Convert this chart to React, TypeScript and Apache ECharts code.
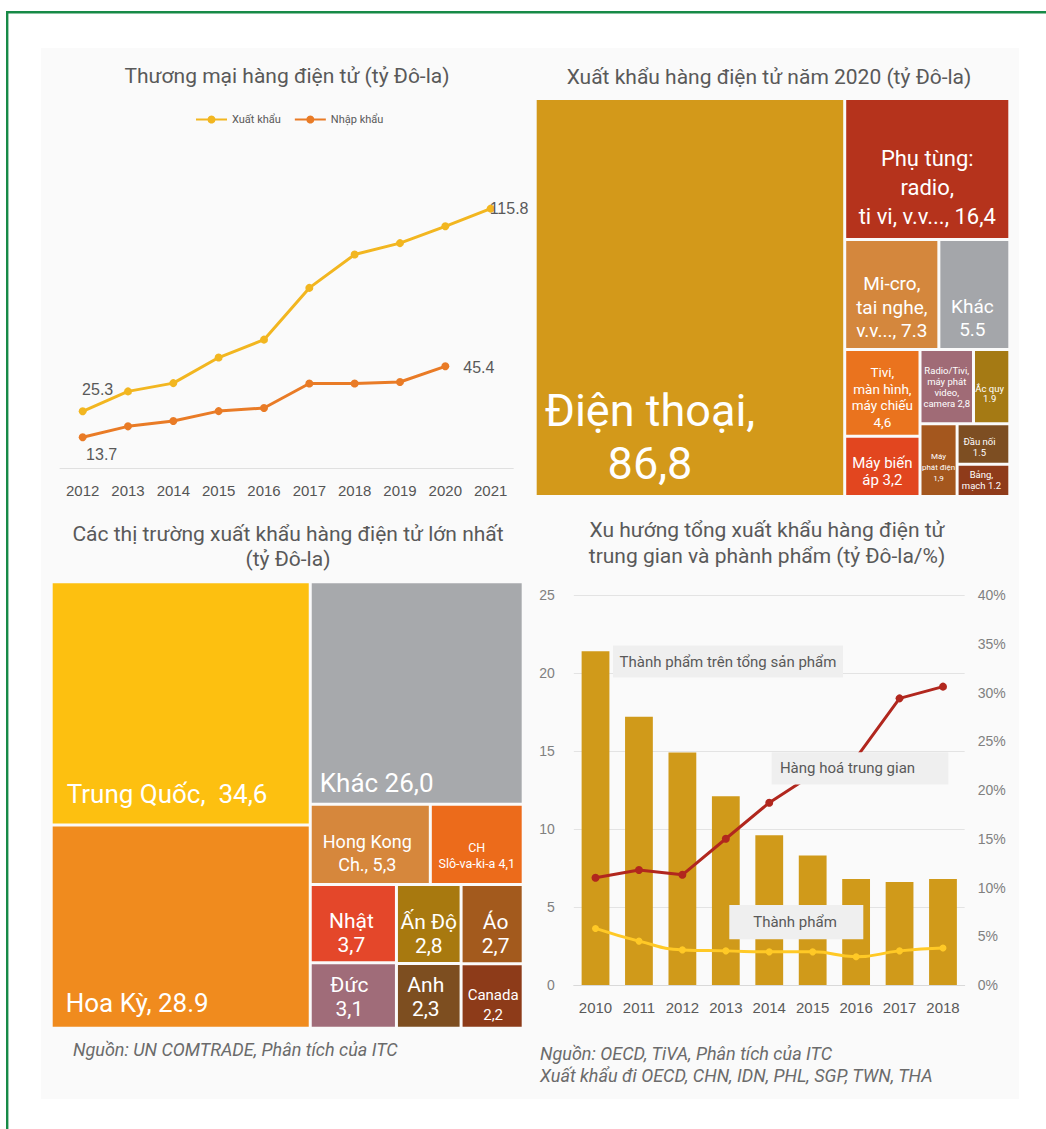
import React, { useEffect, useRef } from 'react';
import * as echarts from 'echarts';

// ---------- Chart 1: Thương mại hàng điện tử ----------
const tradeYears = ['2012', '2013', '2014', '2015', '2016', '2017', '2018', '2019', '2020', '2021'];
const exportValues = [25.3, 34.2, 37.9, 49.3, 57.3, 80.4, 95.3, 100.4, 107.9, 115.8];
const importValues = [13.7, 18.6, 21.0, 25.4, 26.8, 37.7, 37.7, 38.4, 45.4];

// ---------- Chart 2: Xuất khẩu hàng điện tử năm 2020 ----------
const productNames = [
  'Điện thoại', 'Phụ tùng: radio, ti vi, v.v...', 'Mi-cro, tai nghe, v.v...', 'Khác',
  'Tivi, màn hình, máy chiếu', 'Máy biến áp', 'Radio/Tivi, máy phát video, camera', 'Ắc quy',
  'Máy phát điện', 'Đầu nối', 'Bảng, mạch',
];
const productValues = [86.8, 16.4, 7.3, 5.5, 4.6, 3.2, 2.8, 1.9, 1.9, 1.5, 1.2];
const productLabels = [
  'Điện thoại,\n86,8', 'Phụ tùng:\nradio,\nti vi, v.v..., 16,4', 'Mi-cro,\ntai nghe,\nv.v..., 7.3', 'Khác\n5.5',
  'Tivi,\nmàn hình,\nmáy chiếu\n4,6', 'Máy biến\náp 3,2', 'Radio/Tivi,\nmáy phát\nvideo,\ncamera 2,8', 'Ắc quy\n1.9',
  'Máy\nphát điện\n1,9', 'Đầu nối\n1.5', 'Bảng,\nmạch 1.2',
];
const productColors = [
  '#D3991A', '#B5331C', '#D4873D', '#A4A6AA', '#EA731E', '#E2461F', '#A06B76', '#A57A14',
  '#A4571E', '#7D4E22', '#8F3B1A',
];
const productLabelStyles = [
  { fontSize: 45, lineHeight: 53, offset: [-40, 139] },
  { fontSize: 22, lineHeight: 29, offset: [0, 19] },
  { fontSize: 19, lineHeight: 23.5, offset: [0, 13] },
  { fontSize: 19, lineHeight: 23, offset: [-2, 24] },
  { fontSize: 13.5, lineHeight: 16.5, offset: [0, 4] },
  { fontSize: 15, lineHeight: 17, offset: [0, 5] },
  { fontSize: 9.5, lineHeight: 11, offset: [0, 0] },
  { fontSize: 9.5, lineHeight: 10.5, offset: [-2, 7] },
  { fontSize: 8, lineHeight: 11, offset: [0, 7] },
  { fontSize: 9.5, lineHeight: 11, offset: [-4, 3] },
  { fontSize: 9.5, lineHeight: 10.7, offset: [-2, 0] },
];

// ---------- Chart 3: Các thị trường xuất khẩu ----------
const marketNames = [
  'Trung Quốc', 'Hoa Kỳ', 'Khác', 'Hong Kong Ch.', 'CH Slô-va-ki-a', 'Nhật', 'Đức', 'Ấn Độ', 'Anh', 'Áo', 'Canada',
];
const marketValues = [34.6, 28.9, 26.0, 5.3, 4.1, 3.7, 3.1, 2.8, 2.3, 2.7, 2.2];
const marketLabels = [
  'Trung Quốc,  34,6', 'Hoa Kỳ, 28.9', 'Khác 26,0', 'Hong Kong\nCh., 5,3', 'CH\nSlô-va-ki-a 4,1',
  'Nhật\n3,7', 'Đức\n3,1', 'Ấn Độ\n2,8', 'Anh\n2,3', 'Áo\n2,7', 'Canada\n2,2',
];
const marketColors = [
  '#FDC010', '#F08B1E', '#A7A9AC', '#D6873C', '#EC6B1B', '#E4472A', '#A06C79', '#A8790F', '#7D4E20', '#A35A1D', '#8D3B19',
];
const marketLabelStyles = [
  { fontSize: 26, lineHeight: 30, position: 'insideBottomLeft', offset: [14, -15] },
  { fontSize: 26, lineHeight: 30, position: 'insideBottomLeft', offset: [13, -9] },
  { fontSize: 26, lineHeight: 30, position: 'insideBottomLeft', offset: [8, -5] },
  { fontSize: 18, lineHeight: 23, offset: [-3, 9] },
  { fontSize: 12.5, lineHeight: 16, offset: [0, 11] },
  { fontSize: 21, lineHeight: 24, offset: [-2, 9.5] },
  { fontSize: 21, lineHeight: 24, offset: [-4, 1] },
  { fontSize: 21, lineHeight: 24, offset: [0, 9.5] },
  { fontSize: 21, lineHeight: 24, offset: [-3, 1] },
  { fontSize: 21, lineHeight: 24, offset: [3.5, 9.5] },
  { fontSize: 15, lineHeight: 20, offset: [1, 8.5] },
];

// ---------- Chart 4: Xu hướng ----------
const trendYears = ['2010', '2011', '2012', '2013', '2014', '2015', '2016', '2017', '2018'];
const finalGoodsValues = [21.4, 17.2, 14.9, 12.1, 9.6, 8.3, 6.8, 6.6, 6.8];
const intermediateShare = [11.0, 11.8, 11.3, 15.0, 18.7, 21.6, 23.3, 29.4, 30.6];
const finalShare = [5.8, 4.5, 3.6, 3.5, 3.4, 3.4, 2.9, 3.5, 3.8];

const GRAY = '#595959';

function leaf(names: string[], values: number[], labels: string[], colors: string[], styles: any[], i: number) {
  const st = styles[i];
  return {
    name: names[i],
    value: values[i],
    itemStyle: { color: colors[i] },
    label: {
      formatter: labels[i],
      fontSize: st.fontSize,
      lineHeight: st.lineHeight,
      offset: st.offset,
      position: st.position || 'inside',
      align: st.position ? 'left' : 'center',
    },
  };
}

function buildProductTree() {
  const p = (i: number) => leaf(productNames, productValues, productLabels, productColors, productLabelStyles, i);
  return [
    p(0),
    {
      name: 'g1',
      children: [
        p(1),
        {
          name: 'g2',
          children: [
            { name: 'g4', children: [p(2), p(3)] },
            {
              name: 'g3',
              children: [
                p(4),
                p(5),
                {
                  name: 'g5',
                  children: [
                    { name: 'g7', children: [p(6), p(7)] },
                    { name: 'g8', children: [p(8), { name: 'g6', children: [p(9), p(10)] }] },
                  ],
                },
              ],
            },
          ],
        },
      ],
    },
  ];
}

function buildMarketTree() {
  const m = (i: number) => leaf(marketNames, marketValues, marketLabels, marketColors, marketLabelStyles, i);
  return [
    m(0),
    m(1),
    {
      name: 'gr',
      children: [
        m(2),
        m(3),
        m(4),
        {
          name: 'g4',
          children: [
            { name: 'c1', children: [m(5), m(6)] },
            {
              name: 'c23',
              children: [
                { name: 'c2', children: [m(7), m(8)] },
                { name: 'c3', children: [m(9), m(10)] },
              ],
            },
          ],
        },
      ],
    },
  ];
}

const treemapBase: any = {
  type: 'treemap',
  roam: false,
  nodeClick: false,
  sort: false,
  silent: true,
  breadcrumb: { show: false },
  drillDownIcon: '',
  visibleMin: 0,
  itemStyle: { borderWidth: 0, gapWidth: 3, borderColor: '#fafafa' },
  upperLabel: { show: false },
  label: {
    show: true,
    position: 'inside',
    padding: 0,
    distance: 0,
    color: '#ffffff',
    fontFamily: 'Roboto',
    overflow: 'none',
  },
};

function titleText(text: string, x: number, y: number, lineHeight = 25) {
  return {
    type: 'text',
    x,
    y,
    z: 50,
    style: {
      text,
      fill: GRAY,
      fontSize: 21,
      fontFamily: 'Roboto',
      lineHeight,
      align: 'center',
      verticalAlign: 'middle',
    },
  };
}

function sourceText(text: string, x: number, y: number) {
  return {
    type: 'text',
    x,
    y,
    z: 50,
    style: {
      text,
      fill: '#6b6b6b',
      fontSize: 18,
      fontStyle: 'italic',
      fontFamily: 'Roboto',
      align: 'left',
      verticalAlign: 'middle',
    },
  };
}

function noteBox(text: string, x: number, y: number, w: number, h: number, tx: number) {
  return [
    { type: 'rect', x, y, z: 100, shape: { width: w, height: h }, style: { fill: '#efefef' } },
    {
      type: 'text',
      x: tx,
      y: y + h / 2,
      z: 101,
      style: {
        text,
        fill: GRAY,
        fontSize: 15,
        fontFamily: 'Roboto',
        align: 'center',
        verticalAlign: 'middle',
      },
    },
  ];
}

function buildOption(): any {
  const exportData = exportValues.map((v, i) => {
    if (i === 0) return { value: v, label: { show: true, position: 'top', offset: [15, -5] } };
    if (i === exportValues.length - 1) return { value: v, label: { show: true, position: 'right', offset: [-10, 0] } };
    return v;
  });
  const importData = importValues.map((v, i) => {
    if (i === 0) return { value: v, label: { show: true, position: 'bottom', offset: [19, 0] } };
    if (i === importValues.length - 1) return { value: v, label: { show: true, position: 'right', offset: [9, 1] } };
    return v;
  });
  const dataLabel = { fontFamily: 'Liberation Sans', fontSize: 16, color: GRAY };

  return {
    animation: false,
    backgroundColor: '#ffffff',
    textStyle: { fontFamily: 'Roboto' },
    graphic: [
      { type: 'rect', x: 41, y: 48, z: -10, shape: { width: 978, height: 1051 }, style: { fill: '#fafafa' } },
      { type: 'rect', x: 6, y: 11, z: 50, shape: { width: 1040, height: 2.4 }, style: { fill: '#178a47' } },
      { type: 'rect', x: 6, y: 11, z: 50, shape: { width: 2.4, height: 1118 }, style: { fill: '#178a47' } },
      titleText('Thương mại hàng điện tử (tỷ Đô-la)', 287, 76),
      titleText('Xuất khẩu hàng điện tử năm 2020 (tỷ Đô-la)', 769, 77),
      titleText('Các thị trường xuất khẩu hàng điện tử lớn nhất\n(tỷ Đô-la)', 288, 546, 25),
      titleText('Xu hướng tổng xuất khẩu hàng điện tử\ntrung gian và phành phẩm (tỷ Đô-la/%)', 767, 543, 26),
      sourceText('Nguồn: UN COMTRADE, Phân tích của ITC', 73, 1049),
      sourceText('Nguồn: OECD, TiVA, Phân tích của ITC', 540, 1053),
      sourceText('Xuất khẩu đi OECD, CHN, IDN, PHL, SGP, TWN, THA', 540, 1075),
      ...noteBox('Thành phẩm trên tổng sản phẩm', 613, 645.5, 230, 32, 728),
      ...noteBox('Hàng hoá trung gian', 771.7, 752.3, 176.6, 32.2, 847.5),
      ...noteBox('Thành phẩm', 729.3, 905, 134, 34.3, 795),
    ],
    legend: {
      data: ['Xuất khẩu', 'Nhập khẩu'],
      left: 190,
      top: 109,
      itemWidth: 31,
      itemHeight: 10,
      itemGap: 13,
      textStyle: { fontSize: 11, color: GRAY, fontFamily: 'Roboto' },
    },
    grid: [
      { left: 60, right: 532.7, top: 199.2, bottom: 661 },
      { left: 573.8, right: 81.3, top: 595, bottom: 144 },
    ],
    xAxis: [
      {
        gridIndex: 0,
        type: 'category',
        data: tradeYears,
        boundaryGap: true,
        axisLine: { lineStyle: { color: '#e0e0e0', width: 1 } },
        axisTick: { show: false },
        axisLabel: { fontFamily: 'Liberation Sans', fontSize: 15, color: '#555555', margin: 15 },
      },
      {
        gridIndex: 1,
        type: 'category',
        data: trendYears,
        boundaryGap: true,
        axisLine: { lineStyle: { color: '#d9d9d9', width: 1 } },
        axisTick: { show: false },
        axisLabel: { fontFamily: 'Liberation Sans', fontSize: 15, color: GRAY, margin: 15 },
      },
    ],
    yAxis: [
      { gridIndex: 0, type: 'value', min: 0, max: 120, show: false },
      {
        gridIndex: 1,
        type: 'value',
        position: 'left',
        min: 0,
        max: 25,
        interval: 5,
        axisLine: { show: false },
        axisTick: { show: false },
        axisLabel: { fontFamily: 'Liberation Sans', fontSize: 14, color: '#808080', margin: 19 },
        splitLine: { lineStyle: { color: '#e3e3e3', width: 1 } },
      },
      {
        gridIndex: 1,
        type: 'value',
        position: 'right',
        min: 0,
        max: 40,
        interval: 5,
        axisLine: { show: false },
        axisTick: { show: false },
        axisLabel: { fontFamily: 'Liberation Sans', fontSize: 14, color: '#808080', margin: 13, formatter: '{value}%' },
        splitLine: { show: false },
      },
    ],
    series: [
      {
        type: 'line',
        name: 'Xuất khẩu',
        xAxisIndex: 0,
        yAxisIndex: 0,
        data: exportData,
        symbol: 'circle',
        symbolSize: 8,
        lineStyle: { width: 3, color: '#F2B620' },
        itemStyle: { color: '#F2B620' },
        label: { show: false, ...dataLabel },
      },
      {
        type: 'line',
        name: 'Nhập khẩu',
        xAxisIndex: 0,
        yAxisIndex: 0,
        data: importData,
        symbol: 'circle',
        symbolSize: 8,
        lineStyle: { width: 3, color: '#E97B26' },
        itemStyle: { color: '#E97B26' },
        label: { show: false, ...dataLabel },
      },
      {
        ...treemapBase,
        name: 'Xuất khẩu 2020',
        left: 536.7,
        top: 100,
        width: 471.6,
        height: 395,
        squareRatio: 1,
        data: buildProductTree(),
      },
      {
        ...treemapBase,
        name: 'Thị trường',
        left: 52.7,
        top: 583.2,
        width: 469,
        height: 443.6,
        squareRatio: 1.3,
        data: buildMarketTree(),
      },
      {
        type: 'bar',
        name: 'Thành phẩm trên tổng sản phẩm',
        xAxisIndex: 1,
        yAxisIndex: 1,
        data: finalGoodsValues,
        barCategoryGap: '36%',
        itemStyle: { color: '#D09A1A' },
      },
      {
        type: 'line',
        name: 'Hàng hoá trung gian',
        xAxisIndex: 1,
        yAxisIndex: 2,
        data: intermediateShare,
        symbol: 'circle',
        symbolSize: 8,
        lineStyle: { width: 3, color: '#B1271E' },
        itemStyle: { color: '#B1271E' },
      },
      {
        type: 'line',
        name: 'Thành phẩm',
        xAxisIndex: 1,
        yAxisIndex: 2,
        data: finalShare,
        smooth: 0.5,
        symbol: 'circle',
        symbolSize: 7,
        lineStyle: { width: 3, color: '#FFC926' },
        itemStyle: { color: '#FFC926' },
      },
    ],
  };
}

export default function App() {
  const ref = useRef<HTMLDivElement>(null);
  useEffect(() => {
    document.body.style.margin = '0';
    const chart = echarts.init(ref.current as HTMLDivElement, null, { renderer: 'svg' });
    chart.setOption(buildOption());
    return () => chart.dispose();
  }, []);
  return <div ref={ref} style={{ width: 1046, height: 1129 }} />;
}
